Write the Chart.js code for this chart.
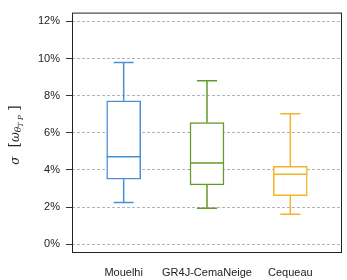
<!DOCTYPE html>
<html>
<head>
<meta charset="utf-8">
<script src="https://cdn.jsdelivr.net/npm/chart.js"></script>
<style>
  html, body { margin: 0; padding: 0; background: #fff; }
</style>
</head>
<body>
<canvas id="chart" width="347" height="280"></canvas>
<script>
// box plot values (in %)
const categories = ['Mouelhi', 'GR4J-CemaNeige', 'Cequeau'];
const minVals = [2.25, 1.94, 1.62];
const q1Vals = [3.5, 3.2, 2.62];
const medianVals = [4.71, 4.38, 3.77];
const q3Vals = [7.72, 6.55, 4.19];
const maxVals = [9.79, 8.8, 7.02];
const yTicks = [0, 2, 4, 6, 8, 10, 12];
const colors = ['#4a8fd8', '#639b29', '#f4b32a'];

const font = { family: '"Liberation Sans", Arial, sans-serif', size: 11 };

// whiskers, medians, frame and axis title
const boxExtras = {
  id: 'boxExtras',
  afterDatasetsDraw(chart) {
    const { ctx, chartArea: a, scales: { x, y } } = chart;
    ctx.save();
    ctx.lineWidth = 1.5;
    categories.forEach((c, i) => {
      const cx = x.getPixelForValue(i);
      const half = 10, boxHalf = 17;
      ctx.strokeStyle = colors[i];
      ctx.beginPath();
      ctx.moveTo(cx, y.getPixelForValue(q3Vals[i]));
      ctx.lineTo(cx, y.getPixelForValue(maxVals[i]));
      ctx.moveTo(cx - half, y.getPixelForValue(maxVals[i]));
      ctx.lineTo(cx + half, y.getPixelForValue(maxVals[i]));
      ctx.moveTo(cx, y.getPixelForValue(q1Vals[i]));
      ctx.lineTo(cx, y.getPixelForValue(minVals[i]));
      ctx.moveTo(cx - half, y.getPixelForValue(minVals[i]));
      ctx.lineTo(cx + half, y.getPixelForValue(minVals[i]));
      ctx.moveTo(cx - boxHalf, y.getPixelForValue(medianVals[i]));
      ctx.lineTo(cx + boxHalf, y.getPixelForValue(medianVals[i]));
      ctx.stroke();
    });
    ctx.strokeStyle = '#222';
    ctx.lineWidth = 1;
    ctx.strokeRect(a.left + 0.5, a.top + 0.5, a.right - a.left - 1, a.bottom - a.top - 1);

    // y title: sigma [omega_{theta TP}]
    ctx.translate(16, 135);
    ctx.rotate(-Math.PI / 2);
    ctx.fillStyle = '#222';
    ctx.textBaseline = 'middle';
    const parts = [
      { t: 'σ', f: 'italic 12px "DejaVu Serif", serif', dy: 0 },
      { t: '  [', f: '14px "DejaVu Serif", serif', dy: -1 },
      { t: 'ω', f: 'italic 12px "DejaVu Serif", serif', dy: 0 },
      { t: 'θ', f: 'italic 9px "DejaVu Serif", serif', dy: 3 },
      { t: 'T P', f: 'italic 7px "DejaVu Serif", serif', dy: 5 },
      { t: ' ]', f: '14px "DejaVu Serif", serif', dy: -1 }
    ];
    let w = 0;
    parts.forEach(p => { ctx.font = p.f; w += ctx.measureText(p.t).width; });
    let px = -w / 2;
    parts.forEach(p => {
      ctx.font = p.f;
      ctx.fillText(p.t, px, p.dy);
      px += ctx.measureText(p.t).width;
    });
    ctx.restore();
  }
};

new Chart(document.getElementById('chart'), {
  type: 'bar',
  data: {
    datasets: [{
      data: categories.map((c, i) => ({ x: i, y: [q1Vals[i], q3Vals[i]] })),
      backgroundColor: '#fff',
      borderColor: colors,
      borderWidth: 1.5,
      borderSkipped: false,
      barThickness: 34
    }]
  },
  options: {
    responsive: false,
    animation: false,
    devicePixelRatio: 1,
    layout: { padding: { top: 6, right: 5, left: 0, bottom: 0 } },
    plugins: { legend: { display: false }, tooltip: { enabled: false } },
    scales: {
      x: {
        type: 'linear',
        offset: false,
        min: -0.62,
        max: 2.62,
        afterBuildTicks: s => { s.ticks = categories.map((c, i) => ({ value: i })); },
        afterFit: s => { s.height = 27; },
        grid: { display: false, drawTicks: false, offset: false },
        border: { display: false },
        ticks: {
          font, color: '#222', padding: 13, maxRotation: 0, autoSkip: false,
          callback: v => categories[v]
        }
      },
      y: {
        min: -0.47,
        max: 12.47,
        afterBuildTicks: s => { s.ticks = yTicks.map(v => ({ value: v })); },
        afterFit: s => { s.width = 72; },
        grid: { color: '#b4b4b4', lineWidth: 1, tickLength: 6, tickColor: '#333' },
        border: { display: false, dash: [3, 2] },
        ticks: { font, color: '#222', padding: 6, callback: v => v + '%' }
      }
    }
  },
  plugins: [boxExtras]
});
</script>
</body>
</html>
